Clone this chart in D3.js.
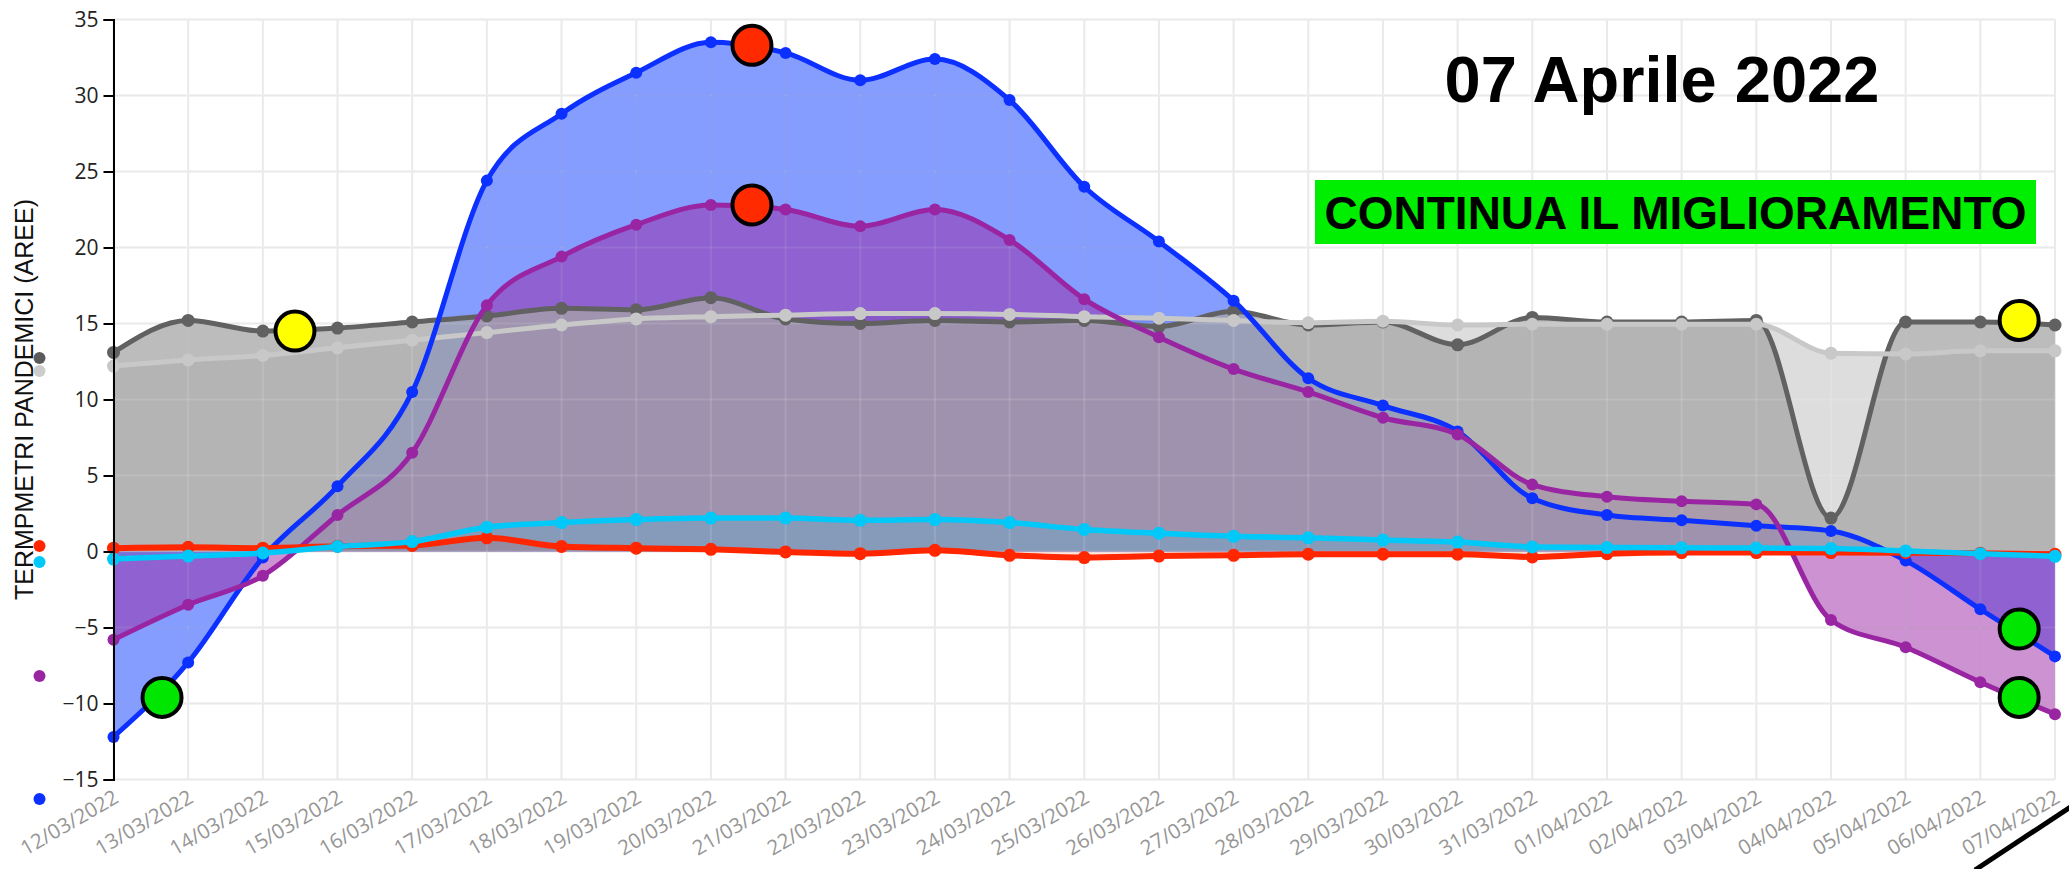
<!DOCTYPE html>
<html>
<head>
<meta charset="utf-8">
<script src="https://cdn.jsdelivr.net/npm/d3@7"></script>
<style>
  body { margin: 0; background: #fff; }
  svg { display: block; }
</style>
</head>
<body>
<svg id="chart" width="2069" height="869"></svg>
<script>
// dates on the x axis
const dates = ["12/03/2022","13/03/2022","14/03/2022","15/03/2022","16/03/2022","17/03/2022","18/03/2022",
  "19/03/2022","20/03/2022","21/03/2022","22/03/2022","23/03/2022","24/03/2022","25/03/2022","26/03/2022",
  "27/03/2022","28/03/2022","29/03/2022","30/03/2022","31/03/2022","01/04/2022","02/04/2022","03/04/2022",
  "04/04/2022","05/04/2022","06/04/2022","07/04/2022"]

// series values
const blue = [-12.2,-7.3,-0.4,4.3,10.5,24.4,28.8,31.5,33.5,32.8,31.0,32.4,29.7,24.0,20.4,16.5,11.4,9.6,7.9,3.5,2.4,2.05,1.7,1.35,-0.6,-3.8,-6.9]
const purple = [-5.8,-3.5,-1.6,2.4,6.5,16.2,19.4,21.5,22.8,22.5,21.4,22.5,20.5,16.6,14.1,12.0,10.5,8.8,7.7,4.4,3.6,3.3,3.1,-4.5,-6.3,-8.6,-10.7]
const darkGray = [13.1,15.2,14.5,14.7,15.1,15.5,16.0,15.9,16.7,15.3,15.0,15.2,15.1,15.2,14.8,15.8,14.9,15.1,13.6,15.4,15.1,15.1,15.2,2.2,15.1,15.1,14.9]
const lightGray = [12.2,12.6,12.9,13.4,13.9,14.4,14.9,15.3,15.45,15.55,15.65,15.65,15.6,15.45,15.35,15.2,15.05,15.15,14.9,14.95,14.95,14.95,14.95,13.05,13.0,13.2,13.2]
const cyan = [-0.5,-0.3,-0.1,0.33,0.65,1.6,1.9,2.1,2.2,2.2,2.05,2.1,1.9,1.45,1.2,1.0,0.9,0.75,0.62,0.3,0.26,0.24,0.23,0.19,0.04,-0.14,-0.32]
const red = [0.22,0.28,0.22,0.35,0.4,0.9,0.33,0.22,0.14,-0.03,-0.14,0.08,-0.25,-0.4,-0.3,-0.25,-0.18,-0.18,-0.18,-0.36,-0.14,-0.07,-0.07,-0.07,-0.08,-0.12,-0.18]

const yTicks = [-15,-10,-5,0,5,10,15,20,25,30,35]

// big status markers (x = day index, y = value)
const markX = [0.65, 2.43, 8.55, 8.55, 25.52, 25.52, 25.52]
const markY = [-9.6, 14.5, 33.3, 22.8, 15.2, -5.1, -9.6]
const markStatus = ["green","yellow","red","red","yellow","green","green"]

const title = "07 Aprile 2022"
const badge = "CONTINUA IL MIGLIORAMENTO"
const yTitle = "TERMPMETRI PANDEMICI (AREE)"

const svg = d3.select("#chart")
const W = 2069, H = 869
const pLeft = 113.5, pRight = 2055, pTop = 19.5, pBottom = 779.5

const x = d3.scaleLinear().domain([0, dates.length - 1]).range([pLeft, pRight])
const y = d3.scaleLinear().domain([-15, 35]).range([pBottom, pTop])
const idx = d3.range(dates.length)

svg.append("rect").attr("width", W).attr("height", H).attr("fill", "#fff")

// grid under the areas
const grid = svg.append("g")
grid.selectAll(".gv").data(idx).join("line")
  .attr("x1", d => x(d)).attr("x2", d => x(d))
  .attr("y1", pTop).attr("y2", pBottom)
  .attr("stroke", "#e8e8e8").attr("stroke-width", 2)
grid.selectAll(".gh").data(yTicks).join("line")
  .attr("x1", pLeft).attr("x2", pRight)
  .attr("y1", d => y(d)).attr("y2", d => y(d))
  .attr("stroke", "#e8e8e8").attr("stroke-width", 2)

const curve = d3.curveMonotoneX
function area(vals) {
  return d3.area().curve(curve).x((d, i) => x(i)).y0(y(0)).y1(d => y(d))(vals)
}
function line(vals) {
  return d3.line().curve(curve).x((d, i) => x(i)).y(d => y(d))(vals)
}

svg.append("path").attr("d", area(lightGray)).attr("fill", "#dddddd")
svg.append("path").attr("d", area(blue)).attr("fill", "#0033ff").attr("fill-opacity", 0.48)
svg.append("path").attr("d", area(purple)).attr("fill", "#9a25a3").attr("fill-opacity", 0.5)
svg.append("path").attr("d", area(darkGray)).attr("fill", "rgb(166,166,166)").attr("fill-opacity", 0.75)
svg.append("path").attr("d", area(cyan)).attr("fill", "#00c8ff").attr("fill-opacity", 0.15)
svg.append("path").attr("d", area(red)).attr("fill", "#ff2600").attr("fill-opacity", 0.12)

// faint grid over the areas
const grid2 = svg.append("g").attr("stroke", "#fff").attr("stroke-opacity", 0.12).attr("stroke-width", 2)
grid2.selectAll(".v").data(idx).join("line")
  .attr("x1", d => x(d)).attr("x2", d => x(d)).attr("y1", pTop).attr("y2", pBottom)
grid2.selectAll(".h").data(yTicks).join("line")
  .attr("x1", pLeft).attr("x2", pRight).attr("y1", d => y(d)).attr("y2", d => y(d))

const series = [
  {vals: darkGray, color: "#616161", w: 5, r: 6.5},
  {vals: lightGray, color: "#c8c8c8", w: 5, r: 6.5},
  {vals: blue, color: "#0b30ff", w: 5, r: 6},
  {vals: purple, color: "#9a25a3", w: 5, r: 6},
  {vals: red, color: "#ff2600", w: 6, r: 6.5},
  {vals: cyan, color: "#00c8f8", w: 5.5, r: 6.5}
]
series.forEach(s => {
  svg.append("path").attr("d", line(s.vals)).attr("fill", "none")
    .attr("stroke", s.color).attr("stroke-width", s.w)
    .attr("stroke-linejoin", "round").attr("stroke-linecap", "round")
  svg.append("g").selectAll("circle").data(s.vals).join("circle")
    .attr("cx", (d, i) => x(i)).attr("cy", d => y(d)).attr("r", s.r).attr("fill", s.color)
})

// y axis
const yAxis = svg.append("g").attr("transform", `translate(${pLeft},0)`)
  .call(d3.axisLeft(y).tickValues(yTicks).tickSize(10).tickPadding(5))
yAxis.select(".domain").attr("stroke", "#000").attr("stroke-width", 2)
yAxis.selectAll(".tick line").attr("stroke", "#000").attr("stroke-width", 2)
yAxis.selectAll("text").attr("font-family", "'Open Sans', sans-serif").attr("font-size", 21).attr("fill", "#222")

// x axis
const xAxis = svg.append("g").attr("transform", `translate(0,${pBottom})`)
  .call(d3.axisBottom(x).tickValues(idx).tickFormat(i => dates[i]).tickSize(0))
xAxis.select(".domain").remove()
xAxis.selectAll("text")
  .attr("font-family", "'Open Sans', sans-serif").attr("font-size", 20.5).attr("fill", "#969696")
  .attr("text-anchor", "end").attr("x", 0).attr("y", 0).attr("dy", 0)
  .attr("transform", "translate(6,22) rotate(-30)")

// y title
svg.append("text").attr("transform", `translate(33,${(pTop + pBottom) / 2}) rotate(-90)`)
  .attr("text-anchor", "middle").attr("font-family", "'Liberation Sans', Arial, sans-serif")
  .attr("font-size", 25).attr("fill", "#111").text(yTitle)

// legend dots on the far left
const legend = [
  {color: "#5a5a5a", y: 358}, {color: "#cccccc", y: 371}, {color: "#ff2600", y: 546},
  {color: "#00c8f8", y: 562}, {color: "#9a25a3", y: 676}, {color: "#0b30ff", y: 799}
]
svg.append("g").selectAll("circle").data(legend).join("circle")
  .attr("cx", 39.5).attr("cy", d => d.y).attr("r", 6).attr("fill", d => d.color)

// status markers
const statusFill = {green: "#00e600", yellow: "#ffff00", red: "#ff2a00"}
svg.append("g").selectAll("circle").data(markX).join("circle")
  .attr("cx", d => x(d)).attr("cy", (d, i) => y(markY[i]))
  .attr("r", 19.5).attr("fill", (d, i) => statusFill[markStatus[i]])
  .attr("stroke", "#000").attr("stroke-width", 4)

// title + badge
svg.append("text").attr("x", 1662).attr("y", 102).attr("text-anchor", "middle")
  .attr("font-family", "'Liberation Sans', Arial, sans-serif").attr("font-weight", "bold")
  .attr("font-size", 65).attr("fill", "#000").text(title)
svg.append("rect").attr("x", 1315).attr("y", 180).attr("width", 721).attr("height", 64).attr("fill", "#00ee00")
svg.append("text").attr("x", 1675.5).attr("y", 229).attr("text-anchor", "middle")
  .attr("font-family", "'Liberation Sans', Arial, sans-serif").attr("font-weight", "bold")
  .attr("font-size", 46).attr("fill", "#000").text(badge)

// corner stroke bottom right
svg.append("line").attr("x1", 1975).attr("y1", 870).attr("x2", 2072).attr("y2", 806)
  .attr("stroke", "#000").attr("stroke-width", 5)
</script>
</body>
</html>
